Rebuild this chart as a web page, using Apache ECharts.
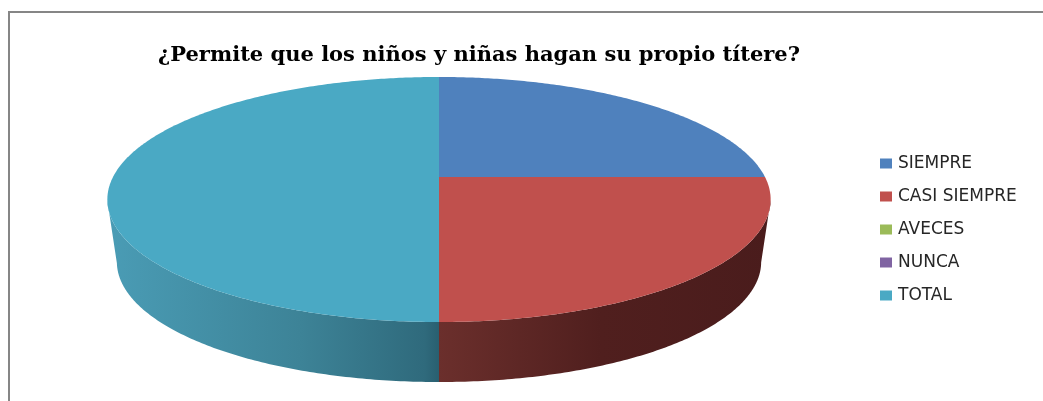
<!DOCTYPE html>
<html>
<head>
<meta charset="utf-8">
<style>html,body{margin:0;padding:0;background:#fff}#c{width:1043px;height:401px}</style>
<script src="https://cdn.jsdelivr.net/npm/echarts@6/dist/echarts.min.js"></script>
</head>
<body>
<div id="c"></div>
<script>
const titleText = '¿Permite que los niños y niñas hagan su propio títere?';
const categories = ['SIEMPRE', 'CASI SIEMPRE', 'AVECES', 'NUNCA', 'TOTAL'];
const values = [25, 25, 0, 0, 50];
const topColors = ['#4f81bd', '#c0504d', '#9bbb59', '#8064a2', '#4aa9c4'];
const wallStops = [
  null,
  [[439, '#6b2f2c'], [600, '#501f1e'], [771, '#4a1c1c']],
  null,
  null,
  [[108, '#4a9cb5'], [300, '#3d8397'], [425, '#2f6a7c'], [439, '#295f70']]
];

// Perspective view of the pie disc
const apex = { x: 439, y: 177 }, A = 326, B = 118.4, persp = 0.1837;
const rim = { cx: 439.5, cy: 199.5, rx: 331.5, ry: 122.5 };
const base = { cx: 439.5, cy: 262, rx: 322, ry: 120 };
const total = values.reduce((a, b) => a + b, 0);

function project(theta) {
  const X = Math.sin(theta), Y = -Math.cos(theta), w = 1 - persp * Y;
  return [apex.x + A * X / w, apex.y + B * Y / w];
}
function drop(p) {
  return [base.cx + (p[0] - rim.cx) * base.rx / rim.rx,
          base.cy + (p[1] - rim.cy) * base.ry / rim.ry];
}
function angleOf(sum) { return sum / total * Math.PI * 2; }

function makeRender(idx) {
  const before = values.slice(0, idx).reduce((a, b) => a + b, 0);
  return function (params, api) {
    const v = api.value(0);
    if (!v) return { type: 'group', children: [] };
    const a0 = angleOf(before), a1 = angleOf(before + v);
    const steps = Math.max(2, Math.round((a1 - a0) * 90));
    const edge = [];
    for (let i = 0; i <= steps; i++) edge.push(project(a0 + (a1 - a0) * i / steps));
    const children = [];
    const front = edge.filter(p => p[1] >= rim.cy);
    if (wallStops[idx] && front.length > 1) {
      const stops = wallStops[idx];
      const x0 = stops[0][0], x1 = stops[stops.length - 1][0];
      children.push({
        type: 'polygon',
        shape: { points: front.concat(front.map(drop).reverse()) },
        style: {
          fill: {
            type: 'linear', x: x0, y: 0, x2: x1, y2: 0, global: true,
            colorStops: stops.map(s => ({ offset: (s[0] - x0) / (x1 - x0), color: s[1] }))
          }
        }
      });
    }
    children.push({
      type: 'polygon',
      shape: { points: [[apex.x, apex.y]].concat(edge) },
      style: { fill: topColors[idx] }
    });
    return { type: 'group', children };
  };
}

const chart = echarts.init(document.getElementById('c'), null, { renderer: 'canvas' });
chart.setOption({
  animation: false,
  backgroundColor: '#fff',
  title: {
    text: titleText,
    left: 474,
    top: 40,
    textAlign: 'center',
    textStyle: { fontFamily: 'DejaVu Serif', fontWeight: 'bold', fontSize: 21, color: '#000' }
  },
  legend: {
    orient: 'vertical',
    left: 875,
    top: 149,
    itemWidth: 12,
    itemHeight: 10,
    itemGap: 14,
    icon: 'rect',
    data: categories,
    textStyle: { fontFamily: 'DejaVu Sans', fontSize: 17, color: '#262626', padding: [0, 0, 0, 1], lineHeight: 19 }
  },
  graphic: [{
    type: 'polyline',
    shape: { points: [[9, 401], [9, 12], [1043, 12]] },
    style: { stroke: '#868686', lineWidth: 2, fill: null }
  }],
  series: categories.map((name, i) => ({
    type: 'custom',
    name,
    coordinateSystem: 'none',
    itemStyle: { color: topColors[i] },
    data: [[values[i]]],
    renderItem: makeRender(i)
  }))
});
</script>
</body>
</html>
